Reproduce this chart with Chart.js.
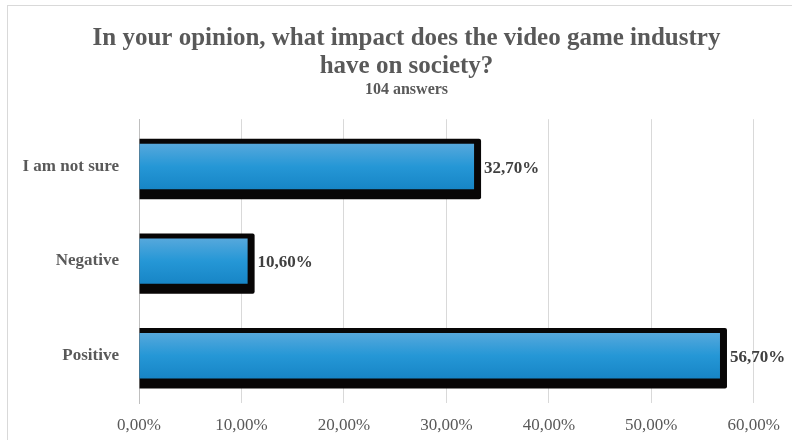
<!DOCTYPE html>
<html>
<head>
<meta charset="utf-8">
<title>Video game industry impact</title>
<script src="https://cdn.jsdelivr.net/npm/chart.js@4/dist/chart.umd.min.js"></script>
<style>
  html, body { margin: 0; padding: 0; background: #fff; }
  #wrap { width: 792px; height: 440px; }
</style>
</head>
<body>
<div id="wrap"><canvas id="chart" width="792" height="440"></canvas></div>
<script>
// survey answers
var categories = ['I am not sure', 'Negative', 'Positive'];
var shares = [32.7, 10.6, 56.7];
var titleLines = ['In your opinion, what impact does the video game industry', 'have on society?'];
var subtitleText = '104 answers';
var axisMax = 60;
var axisStep = 10;

var SERIF = "'Liberation Serif', 'Times New Roman', serif";
var GREY = '#595959';
var BAR_PCT = 0.48;

function pct(v) {
    return v.toFixed(2).replace('.', ',') + '%';
}

// vertical gradient per bar, computed from the category scale
function barFill(c) {
    var chart = c.chart;
    var area = chart.chartArea;
    var ys = chart.scales.y;
    if (!area || !ys || c.dataIndex === undefined) return '#2597d6';
    var mid = ys.getPixelForValue(c.dataIndex);
    var half = area.height / categories.length * BAR_PCT / 2;
    if (!isFinite(mid) || !isFinite(half)) return '#2597d6';
    var g = chart.ctx.createLinearGradient(0, mid - half, 0, mid + half);
    g.addColorStop(0, '#56a8dc');
    g.addColorStop(0.5, '#2597d6');
    g.addColorStop(1, '#1785c6');
    return g;
}

// light frame around the whole chart; title blocks nudged right
var framePlugin = {
    id: 'frame',
    afterLayout: function (chart) {
        chart.boxes.forEach(function (b) {
            if (b.options && b.options.text !== undefined && b.isHorizontal()) {
                b.left += 28;
                b.right += 28;
            }
        });
    },
    beforeDraw: function (chart) {
        var ctx = chart.ctx;
        ctx.save();
        ctx.strokeStyle = '#d9d9d9';
        ctx.lineWidth = 1;
        ctx.strokeRect(7.5, 5.5, chart.width + 20, chart.height + 20);
        ctx.restore();
    }
};

// thick black outline behind each bar, then value text at its end
var barDecor = {
    id: 'barDecor',
    beforeDatasetsDraw: function (chart) {
        var ctx = chart.ctx;
        var meta = chart.getDatasetMeta(0);
        ctx.save();
        ctx.fillStyle = '#080606';
        meta.data.forEach(function (el) {
            var p = el.getProps(['x', 'y', 'base', 'height'], true);
            var top = p.y - p.height / 2 - 5;
            var bottom = p.y + p.height / 2 + 10;
            var right = p.x + 7;
            ctx.beginPath();
            ctx.moveTo(p.base, top);
            ctx.lineTo(right - 2, top);
            ctx.quadraticCurveTo(right, top, right, top + 2);
            ctx.lineTo(right, bottom - 2);
            ctx.quadraticCurveTo(right, bottom, right - 2, bottom);
            ctx.lineTo(p.base, bottom);
            ctx.closePath();
            ctx.fill();
        });
        ctx.restore();
    },
    afterDatasetsDraw: function (chart) {
        var ctx = chart.ctx;
        var meta = chart.getDatasetMeta(0);
        var values = chart.data.datasets[0].data;
        ctx.save();
        ctx.font = 'bold 17px ' + SERIF;
        ctx.fillStyle = '#404040';
        ctx.textAlign = 'left';
        ctx.textBaseline = 'middle';
        meta.data.forEach(function (el, i) {
            var p = el.getProps(['x', 'y'], true);
            ctx.fillText(pct(values[i]), p.x + 10, p.y + 2);
        });
        ctx.restore();
    }
};

new Chart(document.getElementById('chart'), {
    type: 'bar',
    data: {
        labels: categories,
        datasets: [{
            data: shares,
            backgroundColor: barFill,
            borderWidth: 0,
            categoryPercentage: 1,
            barPercentage: BAR_PCT
        }]
    },
    options: {
        indexAxis: 'y',
        responsive: false,
        animation: false,
        layout: { padding: { top: 5, right: 35, bottom: 0, left: 0 } },
        plugins: {
            legend: { display: false },
            tooltip: { enabled: false },
            title: {
                display: true,
                text: titleLines,
                color: GREY,
                font: { family: SERIF, size: 25, weight: 'bold', lineHeight: 1.1 },
                padding: { top: 20, bottom: 0 }
            },
            subtitle: {
                display: true,
                text: subtitleText,
                color: GREY,
                font: { family: SERIF, size: 16, weight: 'bold', lineHeight: 1.2 },
                padding: { top: 0, bottom: 20 }
            }
        },
        scales: {
            x: {
                min: 0,
                max: axisMax,
                ticks: {
                    stepSize: axisStep,
                    color: GREY,
                    padding: 12,
                    maxRotation: 0,
                    font: { family: SERIF, size: 17 },
                    callback: function (v) { return pct(v); }
                },
                grid: { color: '#d9d9d9', lineWidth: 1, drawTicks: false },
                border: { display: false },
                afterFit: function (scale) { scale.height = 37; }
            },
            y: {
                ticks: {
                    color: GREY,
                    padding: 20,
                    font: { family: SERIF, size: 17, weight: 'bold' }
                },
                grid: { display: false, drawTicks: false },
                border: { display: true, color: '#bfbfbf', width: 1 },
                afterFit: function (scale) { scale.width = 139; }
            }
        }
    },
    plugins: [framePlugin, barDecor]
});
</script>
</body>
</html>
